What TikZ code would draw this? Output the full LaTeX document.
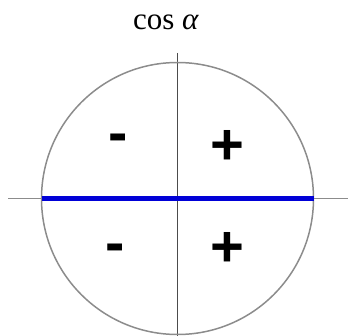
\documentclass[tikz,border=0pt]{standalone}
\usepackage{fontspec}
\newfontfamily\signfont{Liberation Sans}[BoldFont={Liberation Sans Bold}]
\newfontfamily\titlefont{Liberation Serif}
\begin{document}
\begin{tikzpicture}[x=1pt,y=-1pt,
  axis/.style={draw=gray!90, line width=1.4pt},
  vaxis/.style={draw=black!70, line width=1.2pt},
  ring/.style={draw=gray!90, line width=1.5pt},
  bluebar/.style={draw={rgb,255:red,0;green,0;blue,215}, line width=5pt},
  sign/.style={font=\signfont\bfseries\fontsize{58}{58}\selectfont, inner sep=0pt}]
\useasboundingbox (0,0) rectangle (348,336);
\coordinate (O) at (177.5,198.5);
\coordinate (hl) at (8,198.5);
\coordinate (hr) at (348,198.5);
\coordinate (vt) at (177.5,53);
\coordinate (vb) at (177.5,336);
\draw[axis] (hl) -- (hr);
\draw[vaxis] (vt) -- (vb);
\draw[ring] (O) circle[radius=136];
\coordinate (bl) at (41.5,198.5);
\coordinate (br) at (313.5,198.5);
\draw[bluebar] (bl) -- (br);
\node[font=\titlefont\fontsize{31}{31}\selectfont, inner sep=0pt] (title) at (166,22) {cos \textit{α}};
\node[sign] (s1) at (118,143) {-};
\node[sign] (s2) at (227,147) {+};
\node[sign] (s3) at (115,253) {-};
\node[sign] (s4) at (227,249) {+};
\end{tikzpicture}
\end{document}
